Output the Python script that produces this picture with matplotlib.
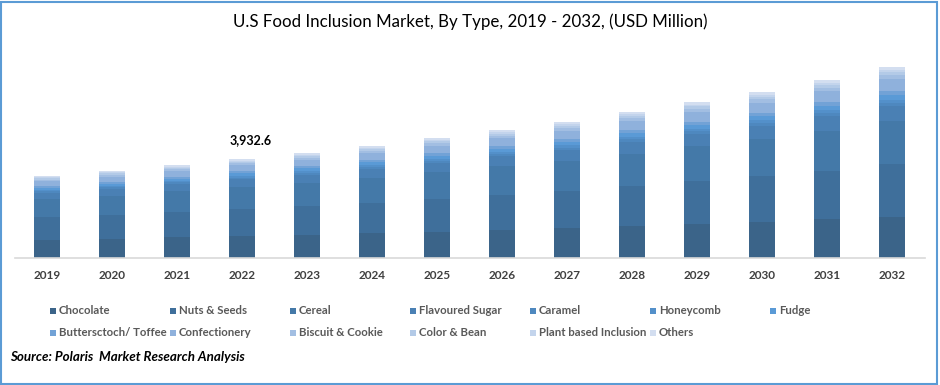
import numpy as np
import matplotlib.pyplot as plt
from matplotlib.patches import Rectangle

plt.rcParams['font.family'] = ['Lato', 'DejaVu Sans']

years = ['2019', '2020', '2021', '2022', '2023', '2024', '2025',
         '2026', '2027', '2028', '2029', '2030', '2031', '2032']

segments = ['Chocolate', 'Nuts & Seeds', 'Cereal', 'Flavoured Sugar', 'Caramel',
            'Honeycomb', 'Fudge', 'Buttersctoch/ Toffee', 'Confectionery',
            'Biscuit & Cookie', 'Color & Bean', 'Plant based Inclusion', 'Others']

chocolate = [728, 768, 820, 870, 921, 980, 1047, 1115, 1182, 1266, 1350, 1432, 1531, 1638]
nuts_seeds = [895.7, 950.4, 1015.9, 1081.5, 1147.0, 1223.5, 1310.7, 1398.1, 1485.6,
              1594.7, 1703.9, 1813.4, 1944.3, 2086.4]
cereal = [705, 752, 806, 860, 915, 978, 1050, 1122, 1195, 1286, 1377, 1470, 1580, 1700]
flavoured_sugar = [260.6, 276.5, 295.5, 314.6, 333.7, 355.9, 381.3, 406.7, 432.2,
                   463.9, 495.7, 527.5, 565.6, 607.0]
caramel = [55.4, 58.8, 62.8, 66.9, 70.9, 75.6, 81.0, 86.4, 91.8, 98.6, 105.3, 112.1, 120.2, 129.0]
honeycomb = [55, 59, 63, 67, 71, 76, 81, 86, 92, 99, 105, 112, 120, 129]
fudge = [81.4, 86.4, 92.4, 98.3, 104.3, 111.2, 119.2, 127.1, 135.1, 145.0, 154.9, 164.9, 176.8, 189.7]
butterscotch = [65.1, 69.1, 73.9, 78.7, 83.4, 89.0, 95.3, 101.7, 108.0, 116.0, 123.9, 131.9, 141.4, 151.7]
confectionery = [201.9, 214.3, 229.0, 243.8, 258.6, 275.8, 295.5, 315.2, 334.9, 359.5,
                 384.2, 408.8, 438.3, 470.4]
biscuit = [65.1, 69.1, 73.9, 78.7, 83.4, 89.0, 95.3, 101.7, 108.0, 116.0, 123.9, 131.9, 141.4, 151.7]
color_bean = [52.1, 55.3, 59.1, 62.9, 66.7, 71.2, 76.3, 81.3, 86.4, 92.8, 99.1, 105.5, 113.1, 121.4]
plant_based = [35.8, 38.0, 40.6, 43.3, 45.9, 48.9, 52.4, 55.9, 59.4, 63.8, 68.2, 72.5, 77.8, 83.5]
others = [55.4, 58.8, 62.8, 66.9, 70.9, 75.6, 81.0, 86.4, 91.8, 98.6, 105.3, 112.1, 120.2, 129.0]

series = [chocolate, nuts_seeds, cereal, flavoured_sugar, caramel, honeycomb, fudge,
          butterscotch, confectionery, biscuit, color_bean, plant_based, others]

colors = ['#3B6489', '#3F6F9B', '#4479A8', '#4A80B4', '#4E88BF', '#5390CA', '#5A9AD6',
          '#72A2D6', '#8FB1DC', '#A2BEE2', '#B3CAE7', '#C3D4EC', '#D3DEF0']

fig = plt.figure(figsize=(9.4, 3.85), dpi=100)
ax = fig.add_axes([14.5 / 940, 127 / 385, 910 / 940, 201.4 / 385])

x = np.arange(len(years))
bottom = np.zeros(len(years))
for vals, c in zip(series, colors):
    ax.bar(x, vals, 0.4, bottom=bottom, color=c, linewidth=0)
    bottom += np.array(vals)

ax.set_xlim(-0.5, len(years) - 0.5)
ax.set_ylim(0, 8000)
ax.set_yticks([])
ax.set_xticks(x)
ax.set_xticklabels(years, fontsize=8.5, fontweight='bold', color='#404040')
ax.tick_params(axis='x', length=0, pad=8.5)
for s in ['top', 'right', 'left']:
    ax.spines[s].set_visible(False)
ax.spines['bottom'].set_color('#D9D9D9')
ax.spines['bottom'].set_linewidth(1.2)

i22 = years.index('2022')
ax.annotate(f'{bottom[i22]:,.1f}', (x[i22], bottom[i22]), xytext=(6, 9),
            textcoords='offset points', ha='center', va='bottom',
            fontsize=9, fontweight='bold', color='black')

fig.text(0.5, 1 - 22 / 385, 'U.S Food Inclusion Market, By Type, 2019 - 2032, (USD Million)',
         ha='center', va='center', fontsize=12.2, color='black')

# legend, filled row by row
for k, (name, c) in enumerate(zip(segments, colors)):
    row, col = divmod(k, 7)
    px = 50 + col * 120
    py = 311 + row * 22
    fig.patches.append(Rectangle((px / 940, 1 - (py + 3) / 385), 6 / 940, 6 / 385,
                                 transform=fig.transFigure, color=c, lw=0))
    fig.text((px + 9) / 940, 1 - py / 385, name, ha='left', va='center',
             fontsize=8.2, fontweight='bold', color='#595959')

fig.text(10 / 940, 1 - 357 / 385, 'Source: Polaris  Market Research Analysis',
         ha='left', va='center', fontsize=9.6, fontweight='bold', fontstyle='italic',
         color='black')

fig.patches.append(Rectangle((1 / 940, 1.5 / 385), 936 / 940, 382 / 385,
                             transform=fig.transFigure, fill=False,
                             edgecolor='#5B9BD5', lw=1.5))

fig.savefig('out.png', dpi=100)
